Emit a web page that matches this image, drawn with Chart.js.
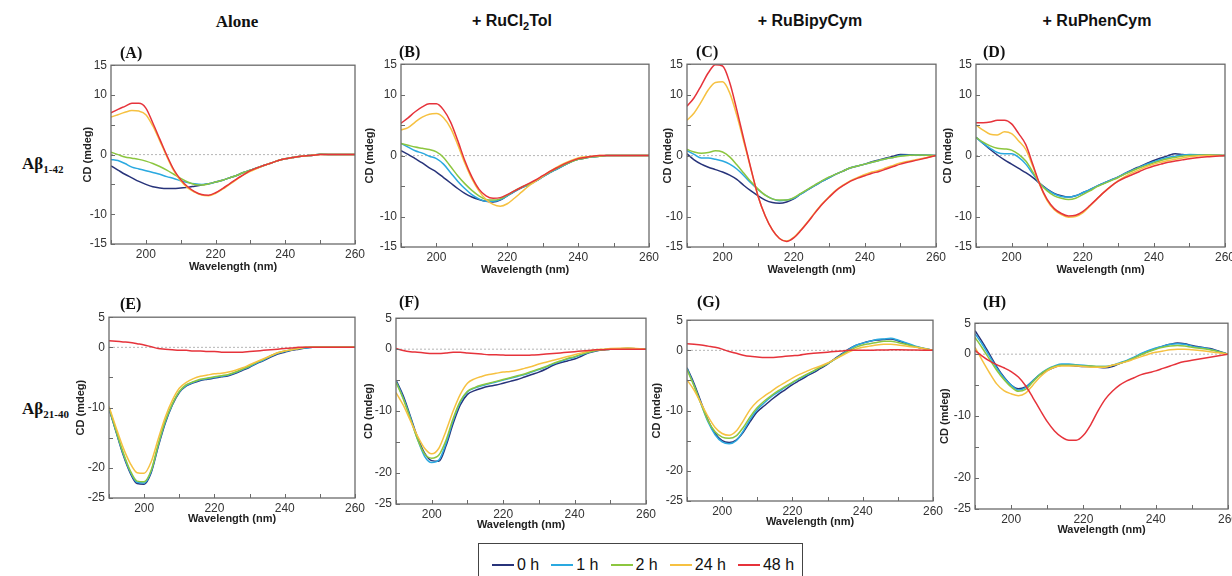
<!DOCTYPE html>
<html>
<head>
<meta charset="utf-8">
<title>CD spectra</title>
<script src="https://cdn.jsdelivr.net/npm/chart.js@4/dist/chart.umd.min.js"></script>
<style>
  body { margin: 0; width: 1232px; height: 576px; overflow: hidden; background: #fff; position: relative; font-family: "Liberation Sans", Arial, sans-serif; color: #111; }
  .head { position: absolute; top: 12px; font-size: 16px; font-weight: bold; transform: translateX(-50%); white-space: nowrap; }
  .head.serif { font-family: "Liberation Serif", "Times New Roman", serif; font-size: 17px; }
  .tag { position: absolute; font-family: "Liberation Serif", "Times New Roman", serif; font-weight: bold; font-size: 16px; }
  .rowlab { position: absolute; left: 22px; font-family: "Liberation Serif", "Times New Roman", serif; font-weight: bold; font-size: 17px; white-space: nowrap; }
  .rowlab sub { font-size: 11px; }
  canvas.panel { position: absolute; }
  #legend { position: absolute; left: 478px; top: 543px; width: 325px; height: 40px; border: 1.5px solid #444; display: flex; padding: 12px 0 0 13px; box-sizing: border-box; font-size: 16px; white-space: nowrap; }
  #legend .key { display: flex; align-items: center; flex: none; margin-right: 12px; height: 18px; white-space: nowrap; }
  #legend .key i { display: inline-block; flex: none; width: 22px; height: 1.5px; margin-right: 3px; }
</style>
</head>
<body>
<div class="head serif" style="left:237px">Alone</div>
<div class="head" style="left:512px">+ RuCl<sub style="font-size:11px">2</sub>Tol</div>
<div class="head" style="left:810px">+ RuBipyCym</div>
<div class="head" style="left:1097px">+ RuPhenCym</div>

<div class="rowlab" style="top:154px">Aβ<sub>1-42</sub></div>
<div class="rowlab" style="top:399px">Aβ<sub>21-40</sub></div>

<div id="legend"></div>

<script>
// wavelengths (nm) shared by every spectrum
const wavelength = [190, 192, 194, 196, 198, 200, 202, 204, 206, 208,
  210, 212, 214, 216, 218, 220, 222, 224, 226, 228,
  230, 232, 234, 236, 238, 240, 242, 244, 246, 248,
  250, 255, 260];

const timeLabels = ["0 h", "1 h", "2 h", "24 h", "48 h"];
const lineColors = ["#27337a", "#2aa9e0", "#8cc63f", "#f6c141", "#e6333b"];

const xTickLabels = [200, 220, 240, 260];
const yTicksTop = [15, 10, 0, -10, -15];
const yTicksBottom = [5, 0, -10, -20, -25];

// CD (mdeg), one row per time point: 0 h, 1 h, 2 h, 24 h, 48 h
const panelA = [
  [-1.9, -2.6, -3.3, -3.9, -4.5, -5.0, -5.4, -5.6, -5.7, -5.7, -5.6, -5.5, -5.3, -5.1, -4.9, -4.6, -4.3, -3.9, -3.5, -3.0, -2.6, -2.2, -1.8, -1.4, -1.0, -0.7, -0.5, -0.3, -0.2, -0.1, 0.05, 0, 0],
  [-0.8, -1.0, -1.5, -2.1, -2.4, -2.7, -3.0, -3.3, -3.7, -4.0, -4.4, -4.7, -4.9, -5.0, -4.9, -4.6, -4.3, -3.9, -3.5, -3.0, -2.6, -2.2, -1.8, -1.4, -1.0, -0.7, -0.5, -0.3, -0.2, -0.1, 0.05, 0, 0],
  [0.4, 0.0, -0.4, -0.6, -0.8, -1.1, -1.5, -2.0, -2.6, -3.3, -4.0, -4.6, -5.0, -5.1, -4.9, -4.6, -4.3, -3.9, -3.5, -3.0, -2.6, -2.2, -1.8, -1.4, -1.0, -0.7, -0.5, -0.3, -0.2, -0.1, 0.05, 0, 0],
  [6.3, 6.7, 7.1, 7.4, 7.3, 6.7, 4.8, 2.3, -0.3, -2.7, -4.4, -5.6, -6.3, -6.8, -6.9, -6.5, -5.8, -5.0, -4.2, -3.4, -2.8, -2.3, -1.8, -1.4, -1.0, -0.7, -0.5, -0.3, -0.2, -0.1, 0, 0, 0],
  [7.0, 7.6, 8.1, 8.6, 8.6, 7.8, 5.3, 2.6, -0.1, -2.5, -4.2, -5.4, -6.2, -6.7, -6.8, -6.4, -5.7, -4.9, -4.1, -3.4, -2.7, -2.2, -1.8, -1.4, -1.0, -0.7, -0.5, -0.3, -0.2, -0.1, 0, 0, 0]
];

const panelB = [
  [0.8, 0.2, -0.5, -1.2, -2.0, -2.7, -3.6, -4.5, -5.4, -6.2, -6.8, -7.2, -7.5, -7.6, -7.3, -6.6, -5.9, -5.3, -4.8, -4.2, -3.5, -2.8, -2.2, -1.6, -1.0, -0.6, -0.4, -0.2, -0.1, 0, 0, 0, 0],
  [2.0, 1.4, 0.8, 0.4, -0.1, -0.5, -1.4, -2.8, -4.2, -5.4, -6.4, -7.1, -7.5, -7.5, -7.2, -6.6, -5.9, -5.3, -4.8, -4.2, -3.5, -2.8, -2.2, -1.6, -1.0, -0.6, -0.4, -0.2, -0.1, 0, 0, 0, 0],
  [2.0, 1.7, 1.4, 1.2, 1.0, 0.6, -0.3, -1.8, -3.3, -4.6, -5.7, -6.6, -7.2, -7.3, -7.1, -6.5, -5.8, -5.2, -4.7, -4.1, -3.4, -2.7, -2.1, -1.5, -1.0, -0.6, -0.4, -0.2, -0.1, 0, 0, 0, 0],
  [4.2, 4.6, 5.5, 6.3, 6.8, 6.9, 6.2, 4.5, 1.8, -1.2, -3.8, -5.8, -7.2, -8.0, -8.3, -7.9, -7.0, -6.0, -5.0, -4.2, -3.4, -2.6, -1.9, -1.3, -0.8, -0.4, -0.2, -0.1, 0, 0, 0, 0, 0],
  [5.3, 6.2, 7.2, 8.0, 8.5, 8.5, 7.5, 5.5, 2.5, -0.8, -3.5, -5.5, -6.6, -7.0, -6.9, -6.4, -5.8, -5.2, -4.6, -4.0, -3.3, -2.6, -2.0, -1.4, -0.9, -0.5, -0.3, -0.1, 0, 0, 0, 0, 0]
];

const panelC = [
  [0.3, -0.7, -1.4, -1.9, -2.3, -2.7, -3.2, -3.9, -4.9, -5.8, -6.6, -7.3, -7.7, -7.8, -7.6, -7.1, -6.3, -5.6, -4.9, -4.2, -3.6, -3.0, -2.5, -2.0, -1.7, -1.4, -1.0, -0.7, -0.4, -0.1, 0.2, 0.1, 0],
  [0.8, 0.2, -0.4, -0.4, -0.6, -0.9, -1.4, -2.2, -3.3, -4.5, -5.6, -6.5, -7.1, -7.4, -7.3, -7.0, -6.3, -5.6, -4.9, -4.2, -3.6, -3.0, -2.5, -2.0, -1.7, -1.4, -1.1, -0.8, -0.5, -0.3, 0, 0.1, 0],
  [1.0, 0.6, 0.4, 0.5, 0.8, 0.6, -0.2, -1.5, -2.9, -4.3, -5.5, -6.5, -7.1, -7.3, -7.3, -6.9, -6.2, -5.5, -4.8, -4.1, -3.5, -3.0, -2.5, -2.0, -1.7, -1.4, -1.1, -0.8, -0.5, -0.3, -0.1, 0.1, 0],
  [5.8, 7.0, 8.8, 10.8, 12.0, 12.1, 10.3, 6.6, 2.2, -2.3, -6.7, -9.9, -12.2, -13.6, -14.0, -13.4, -12.2, -10.8, -9.3, -7.9, -6.7, -5.6, -4.8, -4.1, -3.6, -3.1, -2.7, -2.4, -2.0, -1.6, -1.2, -0.6, 0],
  [8.1, 9.5, 11.5, 13.6, 14.9, 14.7, 12.0, 7.5, 2.6, -2.2, -6.7, -9.9, -12.2, -13.6, -14.1, -13.5, -12.3, -10.9, -9.4, -8.0, -6.8, -5.7, -4.9, -4.2, -3.7, -3.3, -2.9, -2.6, -2.2, -1.8, -1.4, -0.7, 0]
];

const panelD = [
  [3.0, 2.0, 1.0, 0.1, -0.7, -1.4, -2.1, -2.8, -3.6, -4.6, -5.5, -6.2, -6.6, -6.8, -6.6, -6.1, -5.6, -5.0, -4.5, -4.0, -3.5, -2.9, -2.3, -1.8, -1.3, -0.8, -0.4, 0, 0.3, 0.2, 0.1, 0.1, 0],
  [3.0, 2.0, 1.2, 0.5, 0.3, 0.3, -0.3, -1.4, -3.0, -4.6, -5.6, -6.3, -6.7, -6.8, -6.6, -6.1, -5.6, -5.0, -4.5, -4.0, -3.5, -2.9, -2.4, -1.9, -1.4, -1.0, -0.6, -0.3, -0.1, 0.1, 0.2, 0.1, 0],
  [3.0, 2.2, 1.6, 1.2, 1.1, 0.9, 0.2, -0.9, -2.7, -4.6, -5.8, -6.6, -7.0, -7.2, -7.0, -6.4, -5.8, -5.1, -4.6, -4.1, -3.6, -3.0, -2.5, -2.0, -1.6, -1.2, -0.8, -0.5, -0.3, -0.1, 0, 0.1, 0],
  [5.0, 4.2, 3.5, 3.4, 3.9, 3.6, 2.4, 1.0, -1.8, -4.9, -7.4, -8.9, -9.7, -10.1, -10.0, -9.4, -8.3, -7.1, -6.0, -5.0, -4.1, -3.4, -2.8, -2.3, -1.8, -1.4, -1.1, -0.8, -0.6, -0.4, -0.2, 0, 0],
  [5.4, 5.4, 5.5, 5.8, 5.8, 5.2, 3.6, 1.8, -1.5, -4.8, -7.2, -8.7, -9.5, -9.9, -9.8, -9.2, -8.2, -7.1, -6.0, -5.0, -4.2, -3.6, -3.1, -2.6, -2.1, -1.7, -1.4, -1.1, -0.9, -0.7, -0.5, -0.2, 0]
];

const panelE = [
  [-10.2, -14.0, -17.8, -20.8, -22.6, -22.7, -20.8, -16.5, -12.6, -9.6, -7.5, -6.4, -5.9, -5.5, -5.3, -5.1, -4.9, -4.7, -4.3, -3.8, -3.3, -2.7, -2.2, -1.6, -1.1, -0.8, -0.5, -0.3, -0.1, 0, 0, 0, 0],
  [-10.1, -13.9, -17.6, -20.6, -22.4, -22.5, -20.6, -16.3, -12.4, -9.5, -7.4, -6.3, -5.8, -5.4, -5.2, -5.0, -4.8, -4.6, -4.2, -3.7, -3.2, -2.6, -2.1, -1.5, -1.0, -0.7, -0.4, -0.2, -0.1, 0, 0, 0, 0],
  [-10.0, -13.8, -17.4, -20.4, -22.2, -22.3, -20.4, -16.1, -12.2, -9.4, -7.3, -6.2, -5.7, -5.3, -5.1, -4.9, -4.7, -4.5, -4.1, -3.6, -3.1, -2.5, -2.0, -1.4, -0.9, -0.6, -0.4, -0.2, 0, 0, 0, 0, 0],
  [-9.8, -13.3, -16.6, -19.2, -20.8, -20.9, -19.0, -15.2, -11.6, -8.8, -6.8, -5.8, -5.2, -4.8, -4.6, -4.4, -4.3, -4.1, -3.8, -3.4, -2.9, -2.4, -1.9, -1.4, -0.9, -0.6, -0.4, -0.2, 0, 0, 0, 0, 0],
  [1.1, 1.0, 0.9, 0.8, 0.6, 0.4, 0.1, -0.2, -0.3, -0.4, -0.5, -0.5, -0.6, -0.6, -0.7, -0.7, -0.8, -0.8, -0.8, -0.8, -0.7, -0.6, -0.5, -0.4, -0.3, -0.2, -0.1, 0, 0, 0, 0, 0, 0]
];

const panelF = [
  [-5.0, -7.5, -10.8, -14.2, -16.8, -18.0, -18.1, -15.6, -12.0, -9.0, -7.3, -6.7, -6.3, -6.0, -5.8, -5.5, -5.2, -4.9, -4.5, -4.1, -3.7, -3.2, -2.6, -2.2, -1.9, -1.6, -1.1, -0.6, -0.3, -0.1, 0, 0.1, 0],
  [-5.2, -7.8, -11.0, -14.5, -17.3, -18.3, -17.9, -15.2, -11.5, -8.6, -6.9, -6.3, -5.9, -5.6, -5.3, -5.0, -4.7, -4.4, -4.1, -3.7, -3.3, -2.9, -2.4, -2.0, -1.6, -1.3, -0.9, -0.5, -0.2, -0.1, 0, 0.1, 0],
  [-5.3, -8.0, -11.2, -14.5, -16.9, -17.6, -17.1, -14.7, -11.2, -8.4, -6.8, -6.2, -5.8, -5.5, -5.2, -4.9, -4.6, -4.3, -4.0, -3.6, -3.2, -2.8, -2.3, -1.9, -1.5, -1.2, -0.8, -0.5, -0.2, -0.1, 0, 0.1, 0],
  [-7.0, -9.0, -11.5, -14.0, -16.0, -16.9, -16.0, -13.2, -10.0, -7.3, -5.5, -4.8, -4.4, -4.1, -3.9, -3.7, -3.6, -3.4, -3.1, -2.8, -2.4, -2.1, -1.8, -1.5, -1.2, -0.9, -0.6, -0.3, -0.1, 0, 0.1, 0.2, 0],
  [0.1, -0.2, -0.4, -0.5, -0.6, -0.7, -0.7, -0.6, -0.5, -0.5, -0.6, -0.7, -0.8, -0.9, -0.9, -0.95, -1.0, -1.0, -1.0, -0.95, -0.9, -0.8, -0.7, -0.6, -0.5, -0.4, -0.3, -0.2, -0.1, -0.1, 0, 0, 0]
];

const panelG = [
  [-2.9, -5.5, -8.6, -11.6, -13.8, -15.0, -15.3, -14.9, -13.6, -11.8, -10.2, -9.2, -8.2, -7.3, -6.5, -5.7, -5.0, -4.3, -3.7, -3.0, -2.3, -1.4, -0.6, 0.2, 0.8, 1.2, 1.5, 1.7, 1.8, 1.9, 1.6, 0.6, 0],
  [-3.0, -5.8, -8.9, -11.9, -14.0, -15.2, -15.5, -15.0, -13.4, -11.4, -9.8, -8.7, -7.7, -6.9, -6.1, -5.4, -4.7, -4.1, -3.5, -2.8, -2.2, -1.5, -0.7, 0.1, 0.8, 1.2, 1.5, 1.8, 1.9, 2.0, 1.7, 0.7, 0],
  [-3.2, -5.9, -8.9, -11.7, -13.5, -14.4, -14.6, -14.2, -12.8, -11.0, -9.5, -8.4, -7.5, -6.7, -6.0, -5.3, -4.6, -4.0, -3.4, -2.8, -2.2, -1.5, -0.8, -0.1, 0.5, 0.9, 1.1, 1.3, 1.5, 1.5, 1.3, 0.6, 0],
  [-4.9, -6.6, -8.8, -11.0, -12.8, -13.8, -14.1, -13.4, -11.7, -9.8, -8.5, -7.6, -6.8, -6.0, -5.3, -4.6, -4.0, -3.5, -3.0, -2.6, -2.1, -1.5, -0.9, -0.3, 0.2, 0.5, 0.7, 0.9, 1.0, 1.0, 0.9, 0.5, 0],
  [1.1, 1.0, 0.9, 0.7, 0.5, 0.2, -0.2, -0.5, -0.8, -1.0, -1.1, -1.2, -1.2, -1.1, -1.0, -0.9, -0.8, -0.6, -0.5, -0.4, -0.3, -0.2, -0.1, 0, 0, 0, 0, 0.05, 0.05, 0.1, 0.1, 0.05, 0]
];

const panelH = [
  [3.8, 2.0, 0.0, -2.0, -3.7, -5.0, -5.6, -5.3, -4.3, -3.3, -2.6, -2.1, -1.8, -1.8, -1.9, -2.0, -2.0, -2.1, -2.2, -2.0, -1.5, -1.1, -0.6, 0, 0.5, 0.9, 1.3, 1.6, 1.8, 1.7, 1.4, 0.9, 0],
  [3.3, 1.6, -0.3, -2.2, -3.8, -5.0, -5.8, -5.4, -4.3, -3.2, -2.4, -1.9, -1.6, -1.6, -1.7, -1.8, -1.9, -2.0, -2.0, -1.8, -1.4, -1.0, -0.5, 0.1, 0.6, 1.0, 1.3, 1.6, 1.7, 1.6, 1.3, 0.8, 0],
  [2.7, 1.0, -0.8, -2.6, -4.1, -5.3, -6.0, -5.7, -4.5, -3.3, -2.5, -2.0, -1.8, -1.8, -1.8, -1.9, -1.9, -2.0, -2.0, -1.8, -1.5, -1.1, -0.6, -0.1, 0.4, 0.8, 1.1, 1.3, 1.4, 1.3, 1.1, 0.7, 0],
  [1.1, -1.0, -3.0, -4.8, -5.9, -6.4, -6.7, -6.3, -5.0, -3.7, -2.7, -2.1, -1.9, -1.9, -1.9, -2.0, -2.1, -2.1, -2.1, -1.8, -1.5, -1.2, -0.8, -0.4, 0, 0.3, 0.5, 0.7, 0.8, 0.8, 0.7, 0.4, 0],
  [0.6, -0.3, -1.1, -1.7, -2.2, -2.8, -3.7, -5.1, -7.0, -9.0, -10.9, -12.4, -13.4, -13.9, -13.9, -13.1, -11.4, -9.2, -7.3, -6.0, -5.0, -4.3, -3.8, -3.3, -3.0, -2.7, -2.3, -1.9, -1.5, -1.2, -1.0, -0.5, 0]
];

// plot-area boxes on the page: [left, top, right, bottom], gap = y-title distance
const panels = [
  { tag: "(A)", data: panelA, box: [111, 64, 355, 244], gap: 23, row: 0, tagAt: [120, 44] },
  { tag: "(B)", data: panelB, box: [401, 63, 649, 247], gap: 31, row: 0, tagAt: [399, 43] },
  { tag: "(C)", data: panelC, box: [687, 63, 936, 247], gap: 19, row: 0, tagAt: [696, 43] },
  { tag: "(D)", data: panelD, box: [976, 63, 1225, 247], gap: 28, row: 0, tagAt: [983, 43] },
  { tag: "(E)", data: panelE, box: [109, 316, 355, 498], gap: 28, row: 1, tagAt: [120, 295] },
  { tag: "(F)", data: panelF, box: [396, 317, 646, 504], gap: 27, row: 1, tagAt: [399, 293] },
  { tag: "(G)", data: panelG, box: [687, 319, 933, 501], gap: 30, row: 1, tagAt: [697, 293] },
  { tag: "(H)", data: panelH, box: [975, 322, 1228, 509], gap: 30, row: 1, tagAt: [983, 293] }
];

// box round the plot plus short inward ticks
const frame = {
  id: "frame",
  afterDraw(chart) {
    const { ctx, chartArea: a, scales: { x, y } } = chart;
    ctx.save();
    ctx.strokeStyle = "#6a6a6a";
    ctx.lineWidth = 1.3;
    ctx.strokeRect(a.left, a.top, a.right - a.left, a.bottom - a.top);
    ctx.lineWidth = 1;
    ctx.beginPath();
    x.ticks.forEach(t => {
      const px = Math.round(x.getPixelForValue(t.value)) + 0.5;
      ctx.moveTo(px, a.bottom); ctx.lineTo(px, a.bottom - 4);
    });
    y.ticks.forEach(t => {
      const py = Math.round(y.getPixelForValue(t.value)) + 0.5;
      ctx.moveTo(a.left, py); ctx.lineTo(a.left + 4, py);
    });
    ctx.stroke();
    ctx.restore();
  }
};

const tickFont = { family: "'Liberation Sans', Arial, sans-serif", size: 12 };
const titleFont = { family: "'Liberation Sans', Arial, sans-serif", size: 11, weight: "bold", lineHeight: 1.2 };

function makePanel(p) {
  const [l, t, r, b] = p.box;
  const YW = Math.round(p.gap + 6.6);
  const XH = p.row ? 28 : 30;
  const PT = 10, PR = 18;

  const cv = document.createElement("canvas");
  cv.className = "panel";
  cv.width = r - l + YW + PR;
  cv.height = b - t + PT + XH;
  cv.style.left = (l - YW) + "px";
  cv.style.top = (t - PT) + "px";
  document.body.appendChild(cv);

  const tag = document.createElement("div");
  tag.className = "tag";
  tag.textContent = p.tag;
  tag.style.left = p.tagAt[0] + "px";
  tag.style.top = p.tagAt[1] + "px";
  document.body.appendChild(tag);

  const yLabels = p.row ? yTicksBottom : yTicksTop;

  const datasets = [{
    data: [{ x: 190, y: 0 }, { x: 260, y: 0 }],
    borderColor: "#b5b5b5", borderWidth: 1, borderDash: [2, 2], order: 10
  }];
  p.data.forEach((series, i) => {
    datasets.push({
      label: timeLabels[i],
      data: wavelength.map((w, k) => ({ x: w, y: series[k] })),
      borderColor: lineColors[i],
      borderWidth: 1.5,
      cubicInterpolationMode: "monotone",
      order: 5 - i
    });
  });

  new Chart(cv, {
    type: "line",
    data: { datasets },
    options: {
      responsive: false,
      animation: false,
      devicePixelRatio: 1,
      layout: { padding: { top: PT, right: PR, left: 0, bottom: 0 } },
      plugins: { legend: { display: false }, tooltip: { enabled: false } },
      elements: { point: { radius: 0 } },
      scales: {
        x: {
          type: "linear", min: 190, max: 260,
          grid: { display: false, drawTicks: false },
          border: { display: false },
          ticks: {
            stepSize: 10, autoSkip: false, maxRotation: 0, padding: 3,
            color: "#333", font: tickFont,
            callback: v => xTickLabels.includes(v) ? String(v) : ""
          },
          title: { display: true, text: "Wavelength (nm)", color: "#222", font: titleFont, padding: 0 },
          afterFit: s => { s.height = XH; }
        },
        y: {
          min: p.row ? -25 : -15, max: p.row ? 5 : 15,
          grid: { display: false, drawTicks: false },
          border: { display: false },
          ticks: {
            stepSize: 5, autoSkip: false, padding: 4,
            color: "#333", font: tickFont,
            callback: v => yLabels.includes(v) ? String(v) : ""
          },
          title: { display: true, text: "CD (mdeg)", color: "#222", font: titleFont, padding: 0 },
          afterFit: s => { s.width = YW; }
        }
      }
    },
    plugins: [frame]
  });
}

panels.forEach(makePanel);

// legend
const legend = document.getElementById("legend");
timeLabels.forEach((lab, i) => {
  const key = document.createElement("span");
  key.className = "key";
  key.innerHTML = '<i style="background:' + lineColors[i] + '"></i><span>' + lab + '</span>';
  legend.appendChild(key);
});
</script>
</body>
</html>
